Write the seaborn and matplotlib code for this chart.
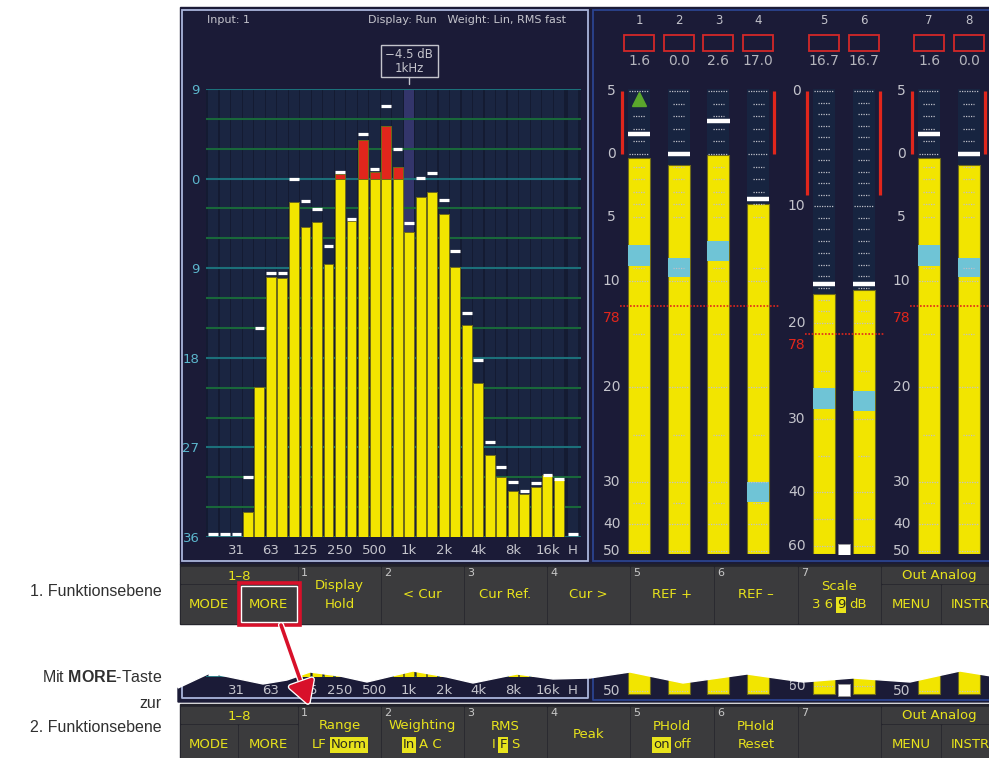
"""
Spectrum analyser + level meter screen with the two soft-key rows
(1. / 2. Funktionsebene), redrawn with seaborn/matplotlib.

Writes out.png (989 x 758 px).
"""

import numpy as np
import pandas as pd
import matplotlib
matplotlib.use("Agg")
import matplotlib.pyplot as plt
import matplotlib.patheffects as pe
from matplotlib.patches import Rectangle, Polygon, FancyArrowPatch
from matplotlib.transforms import blended_transform_factory
import seaborn as sns

# ── Spectrum data (1/3 octave bands, dB) ──────────────────────────────────────
BANDS = ["20", "25", "31.5", "40", "50", "63", "80", "100", "125", "160",
         "200", "250", "315", "400", "500", "630", "800", "1k", "1.25k", "1.6k",
         "2k", "2.5k", "3.15k", "4k", "5k", "6.3k", "8k", "10k", "12.5k", "16k", "20k"]
LEVEL = [-36.0, -36.0, -36.0, -33.5, -20.9, -9.9, -10.0, -2.4, -4.9, -4.4,
         -8.6, 0.5, -4.3, 3.9, 0.7, 5.3, 1.2, -5.4, -1.8, -1.3,
         -3.6, -8.9, -14.7, -20.5, -27.8, -30.0, -31.4, -31.7, -31.0, -29.8, -30.3]
PEAK = [-35.7, -35.7, -35.7, -30.0, -15.0, -9.5, -9.5, 0.0, -2.2, -3.1,
        -6.8, 0.7, -4.1, 4.5, 1.0, 7.3, 3.0, -4.5, 0.1, 0.6,
        -2.1, -7.3, -13.5, -18.2, -26.5, -29.0, -30.5, -31.4, -30.6, -29.8, -30.2]
H_PEAK = -35.7
CURSOR_BAND = 17
FLOOR, TOP = -36, 9
XTICK_BANDS = [2, 5, 8, 11, 14, 17, 20, 23, 26, 29]
XTICK_LABELS = ["31", "63", "125", "250", "500", "1k", "2k", "4k", "8k", "16k"]
YTICK_DB = [9, 0, -9, -18, -27, -36]

# ── Level meters ──────────────────────────────────────────────────────────────
CHANNELS = ["1", "2", "3", "4", "5", "6", "7", "8"]
CH_READOUT = ["1.6", "0.0", "2.6", "17.0", "16.7", "16.7", "1.6", "0.0"]
CH_LEVEL = [-0.3, -0.9, -0.1, -4.0, -17.5, -17.2, -0.3, -0.9]
CH_PEAK = [1.6, 0.0, 2.6, -3.6, -16.7, -16.7, 1.6, 0.0]
CH_RMS_TOP = [-7.2, -8.2, -6.9, -30.0, -26.8, -27.1, -7.2, -8.2]
CH_RMS_BOT = [-8.8, -9.7, -8.4, -34.7, -29.0, -29.2, -8.8, -9.7]
OVER_CH, OVER_DB = 0, 4.4
MUTE_DB = -61.3

# meter scales: dB mark -> screen row
SCALE_A_DB = [5, 0, -5, -10, -20, -30, -40, -50]
SCALE_A_PX = [91, 154, 217, 281, 387, 482, 524, 551]
SCALE_B_DB = [0, -10, -20, -30, -40, -60]
SCALE_B_PX = [91, 206, 323, 419, 492, 546]
TICKS_A_LONG = [5, 0, -10, -20, -30, -40, -50]
TICKS_A_SHORT = [4, 3, 2, 1, -1, -2, -3, -4, -5, -9, -15, -25, -35]
TICKS_B_LONG = [0, -10, -20, -30, -40, -50, -60]
TICKS_B_SHORT = [-1, -2, -3, -4, -5, -6, -7, -8, -9, -11, -12, -13, -14, -15,
                 -16, -17, -18, -19, -25, -35]
REF_A, REF_B = -12.4, -21.1
HOLD_A, HOLD_B = (5, 0), (0, -9)
REF_LABEL = "78"

# ── Soft keys ─────────────────────────────────────────────────────────────────
KEYS_1 = [["Display", "Hold"], ["< Cur"], ["Cur Ref."], ["Cur >"],
          ["REF +"], ["REF \u2013"], ["Scale", [("3 6", 0), ("9", 1), ("dB", 0)]]]
KEYS_2 = [["Range", [("LF", 0), ("Norm", 1)]], ["Weighting", [("In", 1), ("A C", 0)]],
          ["RMS", [("I", 0), ("F", 1), ("S", 0)]], ["Peak"],
          ["PHold", [("on", 1), ("off", 0)]], ["PHold", "Reset"], []]

# ── Colours ───────────────────────────────────────────────────────────────────
SCREEN = "#1b1b37"
PANEL_L = "#aab5dc"
PANEL_R = "#2b438f"
SLOT_BG = "#1a2541"
SLOT_GAP = "#141b32"
CURSOR_BG = "#33356b"
TEAL = "#1c707a"
GREEN = "#19683a"
YELLOW = "#f2e500"
BAR_EDGE = "#6e6a1a"
RED = "#e1261c"
CYAN = "#6fc4d6"
TXT = "#c4c4cc"
YLAB = "#5cb6cc"
DOT = "#c0c0c8"
COL_BG = "#172440"
FK_BG = "#3b3b3d"
FK_GAP = "#22222a"
FK_TXT = "#e8e31c"
FK_NUM = "#c8c8c8"
ARROW_RED = "#d8102a"

W, H = 989, 758
sns.set_theme(style="white")
plt.rcParams["font.family"] = ["DejaVu Sans"]
plt.rcParams["mathtext.fontset"] = "custom"
plt.rcParams["mathtext.bf"] = "Liberation Sans:bold"
plt.rcParams["patch.force_edgecolor"] = False

fig = plt.figure(figsize=(W / 100, H / 100), dpi=100)
fig.patch.set_facecolor("white")


def px_axes(x0, y0, x1, y1, z):
    ax = fig.add_axes([x0 / W, 1 - y1 / H, (x1 - x0) / W, (y1 - y0) / H])
    ax.set_zorder(z)
    return ax


ax_bg = px_axes(0, 0, W, H, 0)
ax_bg.set_xlim(0, W)
ax_bg.set_ylim(H, 0)
ax_bg.axis("off")


# ── Spectrum ──────────────────────────────────────────────────────────────────
SLOT0_PX, SLOT_PX = 213.3, 11.52
SPEC_XLIM = (-0.6, 31.9)
H_POS = 31.2


def draw_spectrum(ax, ylim, main):
    pos = np.arange(len(BANDS))
    slots = np.append(pos, H_POS)
    ax.set_facecolor(SLOT_GAP)
    ax.bar(slots, TOP - FLOOR, width=0.9, color=SLOT_BG, linewidth=0, zorder=0)
    ax.bar(CURSOR_BAND, TOP - FLOOR, width=0.9, color=CURSOR_BG, linewidth=0, zorder=0.5)
    for g in range(0, TOP - FLOOR + 1, 3):
        ax.axhline(g, color=TEAL if g % 9 == 0 else GREEN, lw=1.5, zorder=1)

    df = pd.DataFrame({"pos": pos, "level": LEVEL})
    df["red"] = df["level"] - FLOOR
    df["yel"] = df["level"].clip(upper=0) - FLOOR
    sns.barplot(data=df[df["level"] > 0], x="pos", y="red", native_scale=True,
                orient="x", color=RED, saturation=1, width=0.86, errorbar=None,
                edgecolor=BAR_EDGE, linewidth=0.7, zorder=2, ax=ax)
    sns.barplot(data=df[df["level"] > FLOOR], x="pos", y="yel", native_scale=True,
                orient="x", color=YELLOW, saturation=1, width=0.86, errorbar=None,
                edgecolor=BAR_EDGE, linewidth=0.7, zorder=3, ax=ax)

    pk = np.append(np.array(PEAK), H_PEAK) - FLOOR
    ax.hlines(pk, slots - 0.42, slots + 0.42, colors="white", lw=2.3, zorder=5)

    ax.set_xlim(*SPEC_XLIM)
    ax.set_ylim(*ylim)
    ax.set_xticks(XTICK_BANDS + [H_POS], XTICK_LABELS + ["H"])
    if main:
        ax.set_yticks([d - FLOOR for d in YTICK_DB], [str(abs(d)) for d in YTICK_DB])
    else:
        ax.set_yticks([])
    ax.tick_params(axis="x", colors=TXT, labelsize=9.5, length=3, width=0.8, pad=2)
    ax.tick_params(axis="y", labelcolor=YLAB, labelsize=9.5, length=0, pad=5)
    ax.set_xlabel("")
    ax.set_ylabel("")
    for s in ax.spines.values():
        s.set_visible(False)

    if main:
        tr = blended_transform_factory(ax.transData, ax_bg.transData)
        c = CURSOR_BAND
        ax.add_patch(Rectangle((c - 2.47, 45), 4.95, 32, transform=tr, fill=False,
                               ec=TXT, lw=1.0, clip_on=False))
        ax.plot([c, c], [77, 84], transform=tr, color=TXT, lw=1, clip_on=False)
        ax.text(c, 54, f"{PEAK[c]:.1f} dB".replace("-", "\u2212"), transform=tr,
                ha="center", va="center", color=TXT, fontsize=8.5)
        ax.text(c, 69, f"{BANDS[c]}Hz", transform=tr, ha="center", va="center",
                color=TXT, fontsize=8.5)


# ── Meters ────────────────────────────────────────────────────────────────────
def scale_funcs(db, px):
    d = np.array(db[::-1], float)
    p = -np.array(px[::-1], float)

    def ext(v, xp, fp):
        v = np.asarray(v, float)
        out = np.interp(v, xp, fp)
        lo = fp[0] + (v - xp[0]) * (fp[1] - fp[0]) / (xp[1] - xp[0])
        hi = fp[-1] + (v - xp[-1]) * (fp[-1] - fp[-2]) / (xp[-1] - xp[-2])
        out = np.where(v < xp[0], lo, out)
        return np.where(v > xp[-1], hi, out)

    return (lambda v: ext(v, d, p)), (lambda v: ext(v, p, d))


SCALES = {
    "A": (SCALE_A_DB, SCALE_A_PX, TICKS_A_LONG, TICKS_A_SHORT, REF_A, HOLD_A),
    "B": (SCALE_B_DB, SCALE_B_PX, TICKS_B_LONG, TICKS_B_SHORT, REF_B, HOLD_B),
}
METER_PITCH = 39.7
COL_TOP_PX, COL_BOT_PX = 89, 554
GROUPS = [
    dict(ch=[0, 1, 2, 3], scale="A", px=(594, 790), x0=639, ref_span=(-0.48, 3.53)),
    dict(ch=[4, 5], scale="B", px=(790, 888), x0=824, ref_span=(-0.48, 1.54)),
    dict(ch=[6, 7], scale="A", px=(888, 989), x0=929, ref_span=(-0.48, 1.7)),
]


def draw_meters(ax, grp, rows, main):
    db, px, t_long, t_short, ref, hold = SCALES[grp["scale"]]
    fwd, inv = scale_funcs(db, px)
    ax.set_yscale("function", functions=(fwd, inv))
    xl = ((grp["px"][0] - grp["x0"]) / METER_PITCH, (grp["px"][1] - grp["x0"]) / METER_PITCH)
    ax.set_xlim(*xl)
    y_lo, y_hi = float(inv(-rows[1])), float(inv(-rows[0]))
    ax.set_ylim(y_lo, y_hi)
    ax.axis("off")

    chs = grp["ch"]
    x = np.arange(len(chs), dtype=float)
    floor = float(inv(-COL_BOT_PX))
    top = float(inv(-COL_TOP_PX))
    lv = np.array([CH_LEVEL[c] for c in chs])
    rt = np.array([CH_RMS_TOP[c] for c in chs])
    rb = np.array([CH_RMS_BOT[c] for c in chs])
    pk = np.array([CH_PEAK[c] for c in chs])

    ax.bar(x, top - floor, bottom=floor, width=0.55, color=COL_BG, linewidth=0, zorder=1)
    ax.bar(x, lv - floor, bottom=floor, width=0.55, color=YELLOW,
           edgecolor=BAR_EDGE, linewidth=0.8, zorder=2)
    ax.bar(x, rt - rb, bottom=rb, width=0.55, color=CYAN, linewidth=0, zorder=3)
    for ticks, half in ((t_long, 0.25), (t_short, 0.14)):
        yy = np.repeat(ticks, len(x)).astype(float)
        xx = np.tile(x, len(ticks))
        ax.hlines(yy, xx - half, xx + half, colors=DOT, lw=0.9,
                  linestyles=(0, (1, 1)), zorder=4)
    ax.hlines(pk, x - 0.28, x + 0.28, colors="white", lw=3.2, zorder=5)
    ax.vlines([x[0] - 0.43, x[-1] + 0.41], hold[1], hold[0], colors=RED, lw=2.3, zorder=4)
    ax.hlines(ref, *grp["ref_span"], colors=RED, lw=1.2, linestyles=(0, (1, 1)), zorder=6)

    lab_x = -0.69
    for d in db:
        if main or y_lo <= d <= y_hi:
            ax.text(lab_x, d, str(abs(d)), ha="center", va="center", color=TXT,
                    fontsize=10, clip_on=not main, zorder=6)
    if main:
        ax.annotate(REF_LABEL, (lab_x, ref), xytext=(0, -8), textcoords="offset points",
                    ha="center", va="center", color=RED, fontsize=10)

    if OVER_CH in chs:
        ax.plot(chs.index(OVER_CH), OVER_DB, marker="^", ms=10, color="#5aa82c",
                zorder=7)
    if grp["scale"] == "B":
        ax.plot(0.5, MUTE_DB, marker="s", ms=9, color="white", mec="#9a9a9a",
                mew=0.6, zorder=7, clip_on=True)

    if main:
        tr = blended_transform_factory(ax.transData, ax_bg.transData)
        for i, c in enumerate(chs):
            ax.text(i, 21, CHANNELS[c], transform=tr, ha="center", va="center",
                    color=TXT, fontsize=8.5)
            ax.add_patch(Rectangle((i - 0.38, 35), 0.76, 15.5, transform=tr,
                                   fill=False, ec="#d42828", lw=1.3, clip_on=False))
            ax.text(i, 61, CH_READOUT[c], transform=tr, ha="center", va="center",
                    color="#b4b4bc", fontsize=10)


# ── Screen background (panel frames) ──────────────────────────────────────────
ax_bg.add_patch(Rectangle((180, 7), 812, 557, color=SCREEN, zorder=1))
ax_bg.add_patch(Rectangle((182, 10), 406, 551, fc=SCREEN, ec=PANEL_L, lw=1.3, zorder=1.1))
ax_bg.add_patch(Rectangle((593, 10), 402, 551, fc=SCREEN, ec=PANEL_R, lw=1.3, zorder=1.1))
ax_bg.text(207, 20, "Input: 1", ha="left", va="center", color=TXT, fontsize=8)
ax_bg.text(566, 20, "Display: Run   Weight: Lin, RMS fast", ha="right", va="center",
           color=TXT, fontsize=8)

# torn-off strip showing the lower screen edge
JAG = [(178, 688), (210, 673), (263, 684), (287, 680), (310, 672), (340, 676),
       (367, 682), (413, 671), (447, 677), (473, 683), (517, 674), (553, 679),
       (590, 678), (630, 672), (683, 683), (747, 674), (803, 682), (853, 678),
       (910, 682), (960, 671), (991, 676)]
ax_bg.add_patch(Polygon(JAG + [(991, 702), (178, 702)], closed=True, color=SCREEN, zorder=1))
ax_bg.plot([182, 182, 588, 588], [665, 698, 698, 665], color=PANEL_L, lw=1.3, zorder=1.2)
ax_bg.plot([593, 593, 992], [665, 700, 700], color=PANEL_R, lw=1.3, zorder=1.2)

sx0 = SLOT0_PX + SPEC_XLIM[0] * SLOT_PX
sx1 = SLOT0_PX + SPEC_XLIM[1] * SLOT_PX
draw_spectrum(px_axes(sx0, 89, sx1, 537, 2), (0, TOP - FLOOR), main=True)
draw_spectrum(px_axes(sx0, 657, sx1, 677, 2), (0, 2.0), main=False)

STRIP_SHIFT = 140
for grp in GROUPS:
    draw_meters(px_axes(grp["px"][0], 89, grp["px"][1], 554, 2), grp, (89, 554), True)
    draw_meters(px_axes(grp["px"][0], 510 + STRIP_SHIFT, grp["px"][1], 560 + STRIP_SHIFT, 2),
                grp, (510, 560), False)


# ── Soft-key rows ─────────────────────────────────────────────────────────────
KEY_X = [(299, 380), (382, 463), (465, 546), (548, 629), (631, 713), (715, 797), (799, 880)]
renderer = fig.canvas.get_renderer()


def key_text(ax, x, y, s, ha="center", color=FK_TXT, size=9.5):
    return ax.text(x, y, s, ha=ha, va="center", color=color, fontsize=size, zorder=6)


def seg_text(ax, xc, y, segs, gap=4):
    items = []
    for s, hl in segs:
        t = key_text(ax, 0, y, s, ha="left", color="#2b2b20" if hl else FK_TXT)
        if hl:
            t.set_bbox(dict(boxstyle="square,pad=0.08", fc=FK_TXT, ec="none"))
        items.append(t)
    widths = [t.get_window_extent(renderer).width for t in items]
    x = xc - (sum(widths) + gap * (len(items) - 1)) / 2
    for t, w in zip(items, widths):
        t.set_x(x)
        x += w + gap


def draw_fbar(ax, top, keys):
    split = top + 16
    bottom = top + 56
    ax.add_patch(Rectangle((180, top - 3), 812, bottom - top + 4, color=FK_GAP, zorder=1))

    def cell(x0, x1, y0, y1):
        ax.add_patch(Rectangle((x0, y0), x1 - x0, y1 - y0, color=FK_BG, zorder=2))

    cell(181, 297, top, split)
    cell(181, 237, split + 2, bottom)
    cell(239, 297, split + 2, bottom)
    cell(882, 995, top, split)
    cell(882, 940, split + 2, bottom)
    cell(942, 995, split + 2, bottom)
    key_text(ax, 239, top + 9, "1\u20138")
    key_text(ax, 209, top + 37, "MODE")
    key_text(ax, 268, top + 37, "MORE")
    key_text(ax, 939, top + 9, "Out Analog")
    key_text(ax, 911, top + 37, "MENU")
    key_text(ax, 951, top + 37, "INSTR", ha="left")

    for n, ((x0, x1), lines) in enumerate(zip(KEY_X, keys), start=1):
        cell(x0, x1, top, bottom)
        key_text(ax, x0 + 2, top + 6, str(n), ha="left", color=FK_NUM, size=8)
        ys = [top + 28] if len(lines) == 1 else [top + 19, top + 38]
        for y, line in zip(ys, lines):
            if isinstance(line, str):
                key_text(ax, (x0 + x1) / 2, y, line)
            else:
                seg_text(ax, (x0 + x1) / 2, y, line)


draw_fbar(ax_bg, 567, KEYS_1)
draw_fbar(ax_bg, 707, KEYS_2)

# ── Captions on the left ──────────────────────────────────────────────────────
cap = dict(ha="right", va="center", color="#303030", fontsize=11.5,
           family=["Liberation Sans", "DejaVu Sans"])
ax_bg.text(162, 591, "1. Funktionsebene", **cap)
ax_bg.text(162, 677, r"Mit $\mathbf{MORE}$-Taste", **cap)
ax_bg.text(162, 704, "zur", **cap)
ax_bg.text(162, 728, "2. Funktionsebene", **cap)

# ── Overlay: tear mask, MORE highlight and arrow ──────────────────────────────
ax_top = px_axes(0, 0, W, H, 20)
ax_top.set_xlim(0, W)
ax_top.set_ylim(H, 0)
ax_top.axis("off")
ax_top.add_patch(Polygon([(178, 640)] + JAG + [(991, 640)], closed=True,
                         color="white", zorder=1))
ax_top.add_patch(Rectangle((238.5, 583), 61, 41.5, fill=False, ec=ARROW_RED, lw=2.6, zorder=3))
ax_top.add_patch(Rectangle((241, 585.5), 56, 36.5, fill=False, ec="white", lw=1.0, zorder=3))
ax_top.add_patch(FancyArrowPatch(
    (281, 625), (309, 705), arrowstyle="-|>,head_length=0.7,head_width=0.4",
    mutation_scale=20, color=ARROW_RED, lw=2.6, shrinkA=0, shrinkB=0, zorder=4,
    path_effects=[pe.withStroke(linewidth=4.5, foreground="white")]))

fig.savefig("out.png", dpi=100, facecolor="white")
